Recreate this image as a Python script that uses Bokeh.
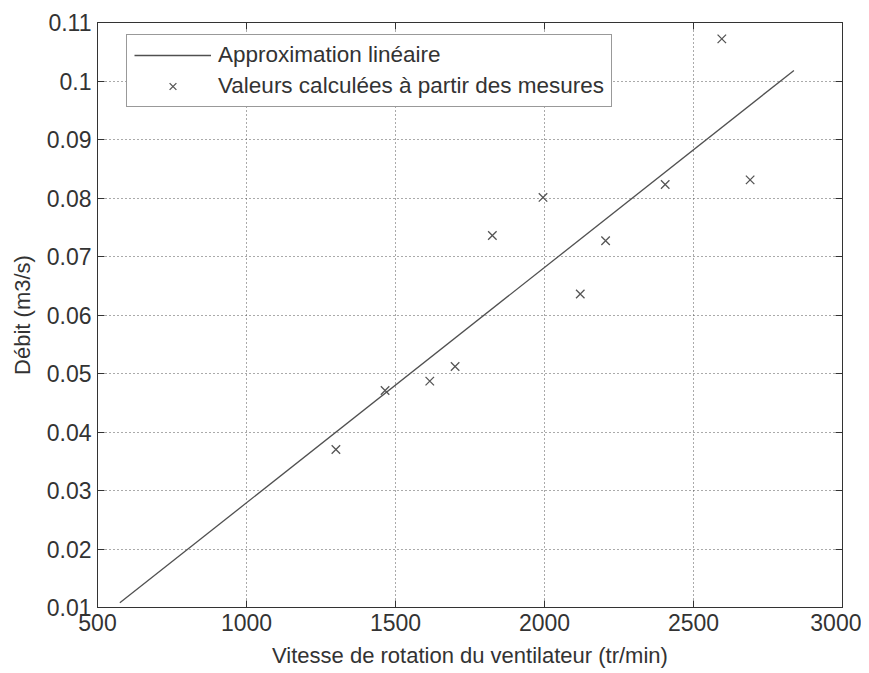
from bokeh.plotting import figure
from bokeh.models import (Range1d, LinearAxis, FixedTicker, CustomJSTickFormatter,
                          Legend, LegendItem, ColumnDataSource)
from bokeh.embed import file_html
from bokeh.resources import INLINE

# ---- data ----
speed = [1300, 1465, 1615, 1700, 1825, 1995, 2120, 2205, 2405, 2595, 2690]
debit = [0.0370, 0.0471, 0.0487, 0.0512, 0.0736, 0.0801, 0.0636, 0.0727, 0.0823, 0.1072, 0.0831]
fit_speed = [575, 2837]
fit_debit = [0.0108, 0.1018]
x_ticks = [500, 1000, 1500, 2000, 2500, 3000]
y_ticks = [0.01, 0.02, 0.03, 0.04, 0.05, 0.06, 0.07, 0.08, 0.09, 0.10, 0.11]

FONT = "Liberation Sans"
TXT = "#333333"
FS = "22px"
FS_TICK = "23px"

p = figure(width=861, height=673, output_backend="svg", toolbar_location=None,
           x_range=Range1d(500, 3000), y_range=Range1d(0.01, 0.11),
           min_border_left=97, min_border_right=19, min_border_top=22, min_border_bottom=66)
p.background_fill_color = "white"
p.border_fill_color = "white"
p.outline_line_color = "#333333"
p.outline_line_width = 1

fmt_y = CustomJSTickFormatter(code="return Number(tick.toFixed(2)).toString();")


def style_axis(ax, ticks, show_labels=True):
    ax.ticker = FixedTicker(ticks=ticks)
    ax.major_tick_in = 7
    ax.major_tick_out = 0
    ax.minor_tick_in = 0
    ax.minor_tick_out = 0
    ax.axis_line_color = "#333333"
    ax.major_tick_line_color = "#333333"
    ax.major_label_text_font = FONT
    ax.axis_label_text_font = FONT
    ax.axis_label_text_font_style = "normal"
    ax.axis_label_text_color = TXT
    ax.axis_label_text_font_size = FS
    if show_labels:
        ax.major_label_text_font_size = FS_TICK
        ax.major_label_text_color = TXT
    else:
        ax.major_label_text_font_size = "1px"
        ax.major_label_text_color = None
        ax.major_label_text_alpha = 0
        ax.major_label_standoff = 0


style_axis(p.xaxis[0], x_ticks)
p.xaxis[0].major_label_standoff = 6
p.xaxis[0].axis_label = "Vitesse de rotation du ventilateur (tr/min)"
p.xaxis[0].axis_label_standoff = 9

style_axis(p.yaxis[0], y_ticks)
p.yaxis[0].formatter = fmt_y
p.yaxis[0].major_label_standoff = 6
p.yaxis[0].axis_label = "Débit (m3/s)"
p.yaxis[0].axis_label_standoff = 9

top_ax = LinearAxis()
style_axis(top_ax, x_ticks, show_labels=False)
p.add_layout(top_ax, "above")
right_ax = LinearAxis()
style_axis(right_ax, y_ticks, show_labels=False)
p.add_layout(right_ax, "right")

for g, t in ((p.xgrid[0], x_ticks), (p.ygrid[0], y_ticks)):
    g.ticker = FixedTicker(ticks=t)
    g.grid_line_color = "#555555"
    g.grid_line_dash = "1 3"
    g.grid_line_width = 1

line_src = ColumnDataSource(dict(x=fit_speed, y=fit_debit))
pts_src = ColumnDataSource(dict(x=speed, y=debit))
r_line = p.line("x", "y", source=line_src, line_color="#505050", line_width=1.3)
r_pts = p.scatter("x", "y", source=pts_src, marker="x", size=12,
                  line_color="#555555", line_width=1.3)

legend = Legend(items=[LegendItem(label="Approximation linéaire", renderers=[r_line]),
                       LegendItem(label="Valeurs calculées à partir des mesures", renderers=[r_pts])],
                location=(29, 500), margin=0, padding=7, spacing=5,
                glyph_height=24, label_height=24, glyph_width=77, label_standoff=7,
                label_text_font=FONT, label_text_font_size="22.5px", label_text_color=TXT,
                border_line_color="#333333", border_line_width=1.5,
                background_fill_color="white", background_fill_alpha=1)
p.add_layout(legend)

open("out.html", "w").write(file_html(p, INLINE))
